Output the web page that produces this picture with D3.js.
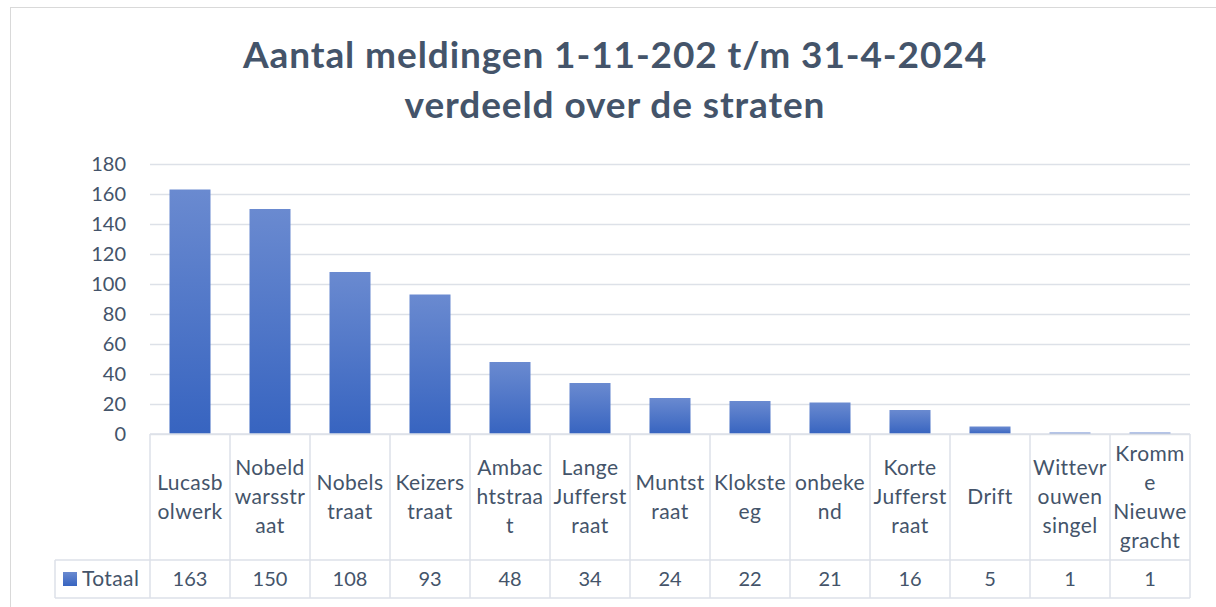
<!DOCTYPE html>
<html>
<head>
<meta charset="utf-8">
<script src="https://cdn.jsdelivr.net/npm/d3@7"></script>
<style>
  body { margin: 0; background: #fff; }
  text { font-family: Lato, "Noto Sans", sans-serif; }
</style>
</head>
<body>
<div id="chart"></div>
<script>
// Data
const categories = ["Lucasbolwerk", "Nobeldwarsstraat", "Nobelstraat", "Keizerstraat", "Ambachtstraat",
  "Lange Jufferstraat", "Muntstraat", "Kloksteeg", "onbekend", "Korte Jufferstraat", "Drift",
  "Wittevrouwensingel", "Kromme Nieuwegracht"];
// how the category names wrap inside the table cells
const categoryLines = [["Lucasb", "olwerk"], ["Nobeld", "warsstr", "aat"], ["Nobels", "traat"], ["Keizers", "traat"],
  ["Ambac", "htstraa", "t"], ["Lange", "Jufferst", "raat"], ["Muntst", "raat"], ["Klokste", "eg"], ["onbeke", "nd"],
  ["Korte", "Jufferst", "raat"], ["Drift"], ["Wittevr", "ouwen", "singel"], ["Kromm", "e", "Nieuwe", "gracht"]];
const totaal = [163, 150, 108, 93, 48, 34, 24, 22, 21, 16, 5, 1, 1];
const yTicks = [0, 20, 40, 60, 80, 100, 120, 140, 160, 180];
const seriesName = "Totaal";
const titleLines = ["Aantal meldingen 1-11-202 t/m 31-4-2024", "verdeeld over de straten"];

const W = 1216, H = 607;
const textColor = "#44546a", lineColor = "#dde1e8";
const plot = { left: 150, right: 1190, top: 164, bottom: 434 };
const catRowBottom = 560, valRowBottom = 598, legendLeft = 55;

const svg = d3.select("#chart").append("svg")
    .attr("width", W)
    .attr("height", H);

// outer chart border
svg.append("rect")
    .attr("x", 10.5).attr("y", 7.5)
    .attr("width", W).attr("height", H)
    .attr("fill", "#fff")
    .attr("stroke", "#d9d9d9");

// bar gradient
const grad = svg.append("defs").append("linearGradient")
    .attr("id", "barGrad")
    .attr("x1", 0).attr("y1", 0).attr("x2", 0).attr("y2", 1);
grad.append("stop").attr("offset", "0%").attr("stop-color", "#6a8ad0");
grad.append("stop").attr("offset", "100%").attr("stop-color", "#3764c0");

// title
svg.append("text")
    .attr("x", 615).attr("y", 68)
    .attr("text-anchor", "middle")
    .attr("fill", textColor)
    .style("font-size", "37px")
    .style("font-weight", "bold")
    .style("letter-spacing", "0.9px")
    .selectAll("tspan")
    .data(titleLines)
    .join("tspan")
        .attr("x", 615)
        .attr("dy", (d, i) => i === 0 ? 0 : 50)
        .text(d => d);

// scales
const x = d3.scaleBand()
    .domain(categories)
    .range([plot.left, plot.right])
    .paddingInner(0)
    .paddingOuter(0);

const y = d3.scaleLinear()
    .domain([0, 180])
    .range([plot.bottom, plot.top]);

// gridlines + y labels
const yAxis = svg.append("g")
    .attr("transform", `translate(${plot.left},0)`)
    .call(d3.axisLeft(y).tickValues(yTicks).tickSize(-(plot.right - plot.left)).tickPadding(24));
yAxis.select(".domain").remove();
yAxis.selectAll(".tick line")
    .attr("stroke", lineColor)
    .attr("stroke-width", 1.5);
yAxis.selectAll(".tick text")
    .attr("fill", textColor)
    .style("font-size", "20px")
    .style("font-family", "Lato, 'Noto Sans', sans-serif");

// bars
const barW = 41;
svg.append("g")
    .selectAll("rect")
    .data(totaal)
    .join("rect")
        .attr("x", (d, i) => x(categories[i]) + (x.bandwidth() - barW) / 2)
        .attr("y", d => y(d))
        .attr("width", barW)
        .attr("height", d => y(0) - y(d))
        .attr("fill", "url(#barGrad)");

// data table
const table = svg.append("g")
    .attr("stroke", lineColor)
    .attr("stroke-width", 1.5)
    .attr("fill", "none");

// horizontal lines
table.append("line").attr("x1", plot.left).attr("x2", plot.right).attr("y1", plot.bottom).attr("y2", plot.bottom);
table.append("line").attr("x1", legendLeft).attr("x2", plot.right).attr("y1", catRowBottom).attr("y2", catRowBottom);
table.append("line").attr("x1", legendLeft).attr("x2", plot.right).attr("y1", valRowBottom).attr("y2", valRowBottom);
table.append("line").attr("x1", legendLeft).attr("x2", legendLeft).attr("y1", catRowBottom).attr("y2", valRowBottom);

// vertical lines
const edges = categories.map(c => x(c)).concat([plot.right]);
table.selectAll(".vline")
    .data(edges)
    .join("line")
        .attr("class", "vline")
        .attr("x1", d => d).attr("x2", d => d)
        .attr("y1", plot.bottom).attr("y2", valRowBottom);

// category labels
const lineH = 29;
const catMid = (plot.bottom + catRowBottom) / 2;
svg.append("g")
    .selectAll("text")
    .data(categoryLines)
    .join("text")
        .attr("text-anchor", "middle")
        .attr("fill", textColor)
        .style("font-size", "21px")
        .style("letter-spacing", "0.4px")
        .each(function(lines, i) {
            const cx = x(categories[i]) + x.bandwidth() / 2;
            const start = catMid - (lines.length - 1) * lineH / 2;
            d3.select(this).selectAll("tspan")
                .data(lines)
                .join("tspan")
                    .attr("x", cx)
                    .attr("y", (d, j) => start + j * lineH)
                    .attr("dy", "0.35em")
                    .text(d => d);
        });

// value row
const valMid = (catRowBottom + valRowBottom) / 2;
svg.append("g")
    .selectAll("text")
    .data(totaal)
    .join("text")
        .attr("x", (d, i) => x(categories[i]) + x.bandwidth() / 2)
        .attr("y", valMid)
        .attr("dy", "0.35em")
        .attr("text-anchor", "middle")
        .attr("fill", textColor)
        .style("font-size", "20px")
        .text(d => d);

// legend key in the table
svg.append("rect")
    .attr("x", 63).attr("y", 572)
    .attr("width", 14).attr("height", 14)
    .attr("fill", "url(#barGrad)");
svg.append("text")
    .attr("x", 82).attr("y", valMid)
    .attr("dy", "0.35em")
    .attr("fill", textColor)
    .style("font-size", "21px")
    .style("letter-spacing", "0.4px")
    .text(seriesName);
</script>
</body>
</html>
